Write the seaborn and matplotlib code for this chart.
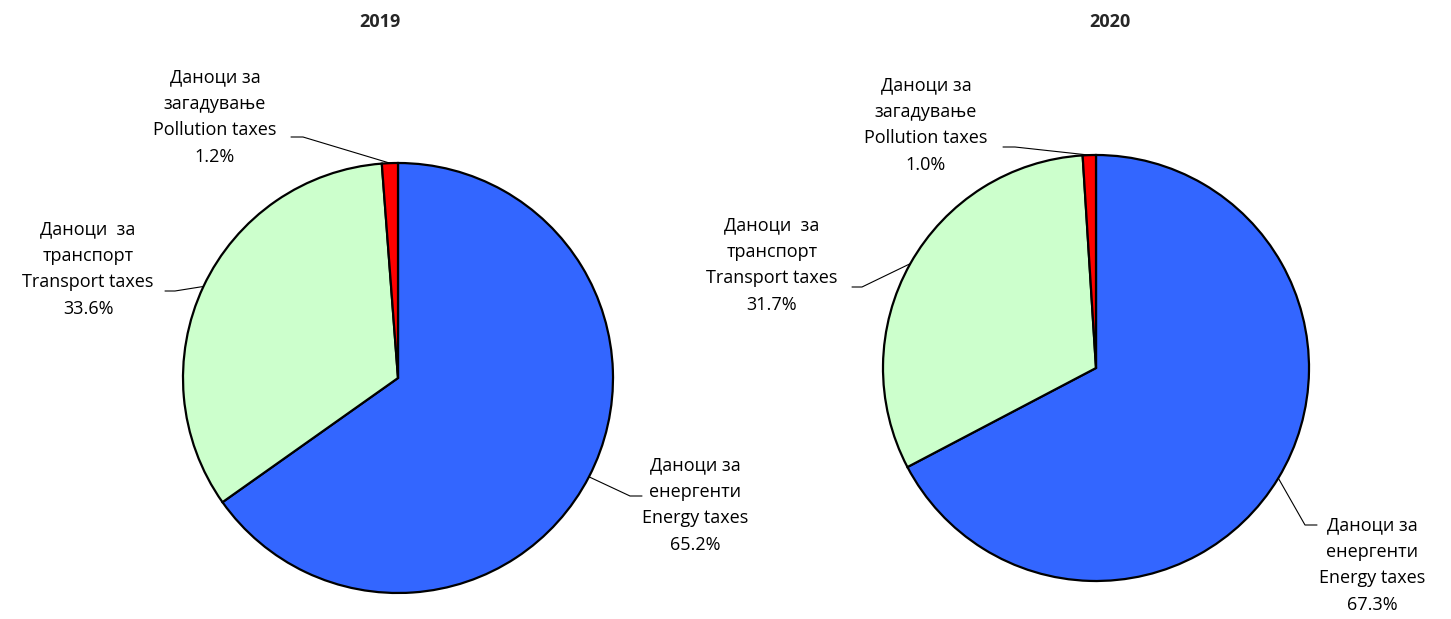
import matplotlib.pyplot as plt
import numpy as np
import seaborn as sns

years = ['2019', '2020']
labels_mk = ['Даноци за\nенергенти', 'Даноци  за\nтранспорт', 'Даноци за\nзагадување']
labels_en = ['Energy taxes', 'Transport taxes', 'Pollution taxes']
shares_2019 = [65.2, 33.6, 1.2]
shares_2020 = [67.3, 31.7, 1.0]
colors = ['#3366FF', '#CCFFCC', '#FF0000']

W, H = 1451, 619

# layout in pixels (from top-left): pie centre, radius, axes span, title,
# label centres and leader elbow/tip for energy, transport, pollution
layouts = [
    dict(center=(398, 378), r=215, span=(0, 725), title=(380, 22),
         text=[(695, 505), (88, 269), (215, 117)],
         elbow=[(630, 496), (175, 291), (303, 137)],
         tip=[(642, 496), (165, 291), (291, 137)]),
    dict(center=(1096, 368), r=213, span=(725, 1451), title=(1110, 22),
         text=[(1372, 565), (772, 265), (926, 125)],
         elbow=[(1305, 525), (862, 287), (1015, 147)],
         tip=[(1317, 525), (852, 287), (1003, 147)]),
]


def main():
    sns.set_theme(style='white')
    plt.rcParams['font.family'] = ['Open Sans', 'DejaVu Sans']

    fig = plt.figure(figsize=(W / 100, H / 100), dpi=100)
    fig.patch.set_facecolor('white')

    for year, shares, lay in zip(years, [shares_2019, shares_2020], layouts):
        cx, cy = lay['center']
        r = lay['r']
        x0, x1 = lay['span']

        def to_data(p):
            return ((p[0] - cx) / r, (cy - p[1]) / r)

        ax = fig.add_axes([x0 / W, 0, (x1 - x0) / W, 1])
        wedges, _ = ax.pie(shares, colors=colors, startangle=90, counterclock=False,
                           radius=1, wedgeprops=dict(edgecolor='black', linewidth=1.6))
        ax.set_xlim((x0 - cx) / r, (x1 - cx) / r)
        ax.set_ylim((cy - H) / r, cy / r)
        ax.set_aspect('auto')
        ax.axis('off')

        for i, w in enumerate(wedges):
            mid = np.deg2rad((w.theta1 + w.theta2) / 2)
            anchor = (np.cos(mid), np.sin(mid))
            ex, ey = to_data(lay['elbow'][i])
            tx, ty = to_data(lay['tip'][i])
            ax.plot([anchor[0], ex, tx], [anchor[1], ey, ty], color='black', lw=0.8,
                    clip_on=False)
            lx, ly = to_data(lay['text'][i])
            ax.text(lx, ly, f'{labels_mk[i]}\n{labels_en[i]}\n{shares[i]:.1f}%',
                    ha='center', va='center', fontsize=13, linespacing=1.62,
                    color='black')

        tx, ty = to_data(lay['title'])
        ax.text(tx, ty, year, ha='center', va='center', fontsize=13, fontweight='bold')

    fig.savefig('out.png', dpi=100, facecolor='white')


if __name__ == '__main__':
    main()
